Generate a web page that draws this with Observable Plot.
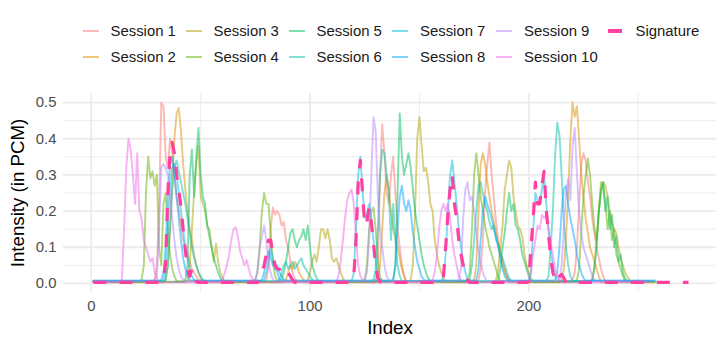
<!DOCTYPE html>
<html>
<head>
<meta charset="utf-8">
<script src="https://cdn.jsdelivr.net/npm/d3@7"></script>
<script src="https://cdn.jsdelivr.net/npm/@observablehq/plot@0.6"></script>
<style>
  html, body { margin: 0; padding: 0; background: #fff; }
  #chart { position: relative; width: 726px; height: 347px; font-family: "Liberation Sans", Arial, Helvetica, sans-serif; }
  #legend { position: relative; width: 726px; height: 75px; }
  .lg-key { position: absolute; }
  .lg-text { position: absolute; font-size: 14.9px; color: #1a1a1a; line-height: 1; white-space: nowrap; }
  #plot svg { display: block; }
</style>
</head>
<body>
<div id="chart">
  <div id="legend"></div>
  <div id="plot"></div>
</div>
<script>
// Series names and colours (ggplot hue palette for the sessions)
const seriesNames = ["Session 1", "Session 2", "Session 3", "Session 4", "Session 5",
                     "Session 6", "Session 7", "Session 8", "Session 9", "Session 10"];
const seriesColors = ["#F8766D", "#DB8E00", "#AEA200", "#64B200", "#00BD5C",
                      "#00C1A7", "#00BADE", "#00A6FF", "#B385FF", "#EF67EB"];
const signatureName = "Signature";
const signatureColor = "#FF40A0";

// Each session: peaks as [first index, consecutive intensities]; quiet stretches sit at the session's baseline
const session1 = [
  [29, [0.01, 0.05, 0.2, 0.5, 0.49, 0.35, 0.32, 0.4, 0.36, 0.3, 0.24, 0.2, 0.16, 0.12, 0.1, 0.08, 0.06, 0.04, 0.03, 0.02, 0.01]],
  [80, [0.01, 0.05, 0.15, 0.21, 0.19, 0.2, 0.19, 0.16, 0.17, 0.12, 0.1, 0.06, 0.03, 0.015]],
  [130, [0.01, 0.05, 0.3, 0.44, 0.36, 0.25, 0.22, 0.3, 0.35, 0.25, 0.15, 0.1, 0.05, 0.02]],
  [177, [0.01, 0.04, 0.12, 0.25, 0.33, 0.39, 0.3, 0.24, 0.17, 0.12, 0.09, 0.06, 0.04, 0.02, 0.01]],
  [220, [0.01, 0.03, 0.1, 0.22, 0.33, 0.36, 0.34, 0.28, 0.24, 0.18, 0.14, 0.1, 0.07, 0.04, 0.02]]
];
const session2 = [
  [34, [0.01, 0.05, 0.15, 0.28, 0.4, 0.47, 0.485, 0.42, 0.33, 0.26, 0.2, 0.15, 0.12, 0.08, 0.05, 0.03, 0.015]],
  [89, [0.01, 0.03, 0.05, 0.04, 0.06, 0.05, 0.03, 0.02, 0.01]],
  [131, [0.01, 0.05, 0.15, 0.25, 0.3, 0.26, 0.2, 0.15, 0.13, 0.1, 0.07, 0.04, 0.02]],
  [175, [0.01, 0.05, 0.2, 0.33, 0.36, 0.33, 0.28, 0.24, 0.2, 0.17, 0.14, 0.11, 0.08, 0.05, 0.03, 0.015]],
  [215, [0.01, 0.04, 0.12, 0.25, 0.4, 0.5, 0.46, 0.49, 0.4, 0.3, 0.24, 0.18, 0.14, 0.1, 0.08, 0.06, 0.04, 0.02]]
];
const session3 = [
  [44, [0.01, 0.05, 0.15, 0.25, 0.33, 0.38, 0.24, 0.22, 0.2, 0.16, 0.15, 0.1, 0.06, 0.11, 0.06, 0.03, 0.015]],
  [99, [0.01, 0.03, 0.06, 0.08, 0.06, 0.1, 0.15, 0.15, 0.125, 0.15, 0.12, 0.07, 0.06, 0.07, 0.05, 0.03, 0.015]],
  [146, [0.01, 0.05, 0.2, 0.4, 0.46, 0.38, 0.31, 0.32, 0.28, 0.22, 0.2, 0.12, 0.08, 0.05, 0.03, 0.015]],
  [185, [0.01, 0.04, 0.1, 0.16, 0.26, 0.3, 0.34, 0.32, 0.24, 0.2, 0.16, 0.15, 0.13, 0.08, 0.05, 0.03, 0.015]],
  [229, [0.01, 0.05, 0.12, 0.2, 0.26, 0.28, 0.27, 0.24, 0.2, 0.17, 0.15, 0.14, 0.1, 0.07, 0.05, 0.03, 0.02, 0.01]]
];
const session4 = [
  [23, [0.01, 0.05, 0.25, 0.35, 0.29, 0.31, 0.27, 0.3, 0.1, 0.05, 0.22, 0.25, 0.15, 0.08, 0.04, 0.02]],
  [75, [0.01, 0.03, 0.1, 0.2, 0.25, 0.22, 0.22, 0.14, 0.06, 0.02]],
  [125, [0.01, 0.05, 0.15, 0.2, 0.21, 0.15, 0.06, 0.02]],
  [172, [0.01, 0.03, 0.15, 0.3, 0.36, 0.3, 0.24, 0.2, 0.16, 0.13, 0.1, 0.08, 0.06, 0.04, 0.02]],
  [222, [0.01, 0.04, 0.15, 0.24, 0.3, 0.345, 0.3, 0.22, 0.15, 0.12, 0.2, 0.28, 0.27, 0.22, 0.15, 0.2, 0.12, 0.15, 0.08, 0.06, 0.04, 0.02]]
];
const session5 = [
  [43, [0.01, 0.05, 0.3, 0.37, 0.24, 0.35, 0.43, 0.3, 0.24, 0.22, 0.16, 0.13, 0.1, 0.07, 0.05, 0.03, 0.015]],
  [87, [0.01, 0.03, 0.06, 0.1, 0.14, 0.15, 0.12, 0.1, 0.12, 0.13, 0.15, 0.12, 0.16, 0.1, 0.05, 0.03, 0.015]],
  [138, [0.01, 0.05, 0.25, 0.47, 0.35, 0.3, 0.33, 0.36, 0.32, 0.26, 0.2, 0.16, 0.12, 0.08, 0.05, 0.03, 0.015]],
  [186, [0.01, 0.04, 0.1, 0.14, 0.2, 0.25, 0.2, 0.22, 0.16, 0.15, 0.12, 0.08, 0.06, 0.04, 0.02]],
  [229, [0.01, 0.04, 0.1, 0.2, 0.25, 0.28, 0.2, 0.24, 0.15, 0.19, 0.1, 0.13, 0.06, 0.08, 0.03, 0.015]]
];
const session6 = [
  [34, [0.01, 0.05, 0.15, 0.26, 0.32, 0.34, 0.31, 0.28, 0.25, 0.22, 0.18, 0.14, 0.1, 0.07, 0.05, 0.03, 0.02, 0.01]],
  [86, [0.01, 0.03, 0.05, 0.06, 0.04, 0.05, 0.06, 0.04, 0.05, 0.06, 0.07, 0.05, 0.04, 0.03, 0.02, 0.01]],
  [129, [0.01, 0.04, 0.15, 0.3, 0.37, 0.36, 0.3, 0.25, 0.12, 0.22, 0.12, 0.05, 0.02]],
  [173, [0.01, 0.05, 0.12, 0.2, 0.27, 0.28, 0.25, 0.22, 0.2, 0.17, 0.15, 0.16, 0.12, 0.11, 0.08, 0.07, 0.05, 0.03, 0.015]],
  [209, [0.02, 0.1, 0.2, 0.35, 0.445, 0.41, 0.3, 0.17, 0.1, 0.05, 0.02]]
];
const session7 = [
  [33, [0.01, 0.04, 0.15, 0.27, 0.32, 0.33, 0.3, 0.25, 0.2, 0.15, 0.1, 0.07, 0.04, 0.02, 0.01]],
  [79, [0.01, 0.03, 0.06, 0.1, 0.07, 0.04, 0.05, 0.03, 0.02, 0.01]],
  [119, [0.005, 0.03, 0.15, 0.3, 0.35, 0.26, 0.18, 0.19, 0.22, 0.18, 0.12, 0.06, 0.02, 0.01]],
  [160, [0.005, 0.02, 0.08, 0.2, 0.3, 0.34, 0.28, 0.22, 0.15, 0.1, 0.06, 0.03, 0.01]],
  [200, [0.005, 0.03, 0.15, 0.25, 0.23, 0.22, 0.26, 0.3, 0.22, 0.15, 0.09, 0.05, 0.02, 0.01]]
];
const session8 = [
  [32, [0.01, 0.03, 0.1, 0.25, 0.33, 0.35, 0.3, 0.24, 0.18, 0.12, 0.07, 0.04, 0.02, 0.01]],
  [78, [0.01, 0.03, 0.06, 0.09, 0.07, 0.05, 0.06, 0.03, 0.01]],
  [138, [0.01, 0.05, 0.15, 0.24, 0.27, 0.22, 0.2, 0.23, 0.2, 0.14, 0.1, 0.06, 0.04, 0.02, 0.01]],
  [176, [0.01, 0.04, 0.12, 0.2, 0.24, 0.22, 0.2, 0.18, 0.15, 0.13, 0.1, 0.07, 0.04, 0.02, 0.01]],
  [212, [0.01, 0.03, 0.1, 0.2, 0.26, 0.27, 0.22, 0.18, 0.15, 0.12, 0.08, 0.05, 0.03, 0.015]]
];
const session9 = [
  [29, [0.01, 0.02, 0.15, 0.32, 0.33, 0.32, 0.3, 0.25, 0.18, 0.12, 0.07, 0.04, 0.02, 0.01]],
  [75, [0.01, 0.04, 0.1, 0.13, 0.16, 0.12, 0.06, 0.03, 0.01]],
  [125, [0.01, 0.03, 0.12, 0.3, 0.46, 0.42, 0.24, 0.15, 0.1, 0.05, 0.02, 0.01]],
  [168, [0.01, 0.04, 0.18, 0.26, 0.28, 0.23, 0.24, 0.2, 0.14, 0.09, 0.06, 0.03, 0.015]],
  [214, [0.01, 0.05, 0.15, 0.25, 0.29, 0.23, 0.38, 0.43, 0.3, 0.2, 0.14, 0.1, 0.08, 0.06, 0.04, 0.02, 0.01]]
];
const session10 = [
  [13, [0.005, 0.01, 0.15, 0.32, 0.4, 0.37, 0.3, 0.22, 0.36, 0.2, 0.18, 0.12, 0.1, 0.08, 0.06, 0.07, 0.03, 0.015]],
  [60, [0.01, 0.03, 0.05, 0.08, 0.12, 0.15, 0.155, 0.13, 0.09, 0.07, 0.05, 0.065, 0.04, 0.02, 0.01]],
  [112, [0.005, 0.02, 0.06, 0.12, 0.18, 0.23, 0.25, 0.26, 0.22, 0.13, 0.05, 0.02, 0.01]],
  [156, [0.01, 0.03, 0.08, 0.15, 0.2, 0.22, 0.2, 0.22, 0.18, 0.12, 0.08, 0.05, 0.02, 0.01]],
  [200, [0.01, 0.03, 0.08, 0.12, 0.16, 0.15, 0.19, 0.18, 0.19, 0.15, 0.11, 0.08, 0.04, 0.02, 0.01]]
];
const signature = [
  [33, [0.01, 0.06, 0.25, 0.36, 0.39, 0.36, 0.3, 0.26, 0.21, 0.15, 0.09, 0.04, 0.02, 0.04, 0.03, 0.005]],
  [77, [0.01, 0.03, 0.05, 0.08, 0.12, 0.12, 0.08, 0.05, 0.04, 0.04, 0.03, 0.02, 0.025, 0.03, 0.02, 0.01]],
  [119, [0.005, 0.02, 0.12, 0.28, 0.34, 0.25, 0.16, 0.17, 0.21, 0.17, 0.11, 0.05, 0.015, 0.005]],
  [160, [0.005, 0.02, 0.1, 0.19, 0.26, 0.3, 0.22, 0.18, 0.12, 0.08, 0.05, 0.025, 0.01]],
  [200, [0.005, 0.1, 0.18, 0.28, 0.22, 0.22, 0.27, 0.31, 0.2, 0.14, 0.07, 0.03, 0.01]],
  [214, [0.02, 0.025, 0.015]]
];

const sessionPeaks = [session1, session2, session3, session4, session5,
                      session6, session7, session8, session9, session10];
const sessionBaselines = [0.005, 0.003, 0.004, 0.006, 0.005, 0.007, 0.007, 0.008, 0.006, 0.003];
const sessionLengths = [255, 258, 257, 256, 258, 255, 257, 258, 256, 254];
const signatureBaseline = 0.003;
const signatureLength = 273;

// Axis ticks and grid
const xTicks = [0, 100, 200];
const xMinor = [50, 150, 250];
const yTicks = [0, 0.1, 0.2, 0.3, 0.4, 0.5];
const yMinor = [0.05, 0.15, 0.25, 0.35, 0.45];

// Expand peak segments into one row per index (indices start at 1)
function toRows(name, peaks, baseline, length) {
  const values = new Array(length + 1).fill(baseline);
  for (const [start, vals] of peaks) vals.forEach((v, k) => { values[start + k] = v; });
  const rows = [];
  for (let i = 1; i <= length; i++) rows.push({series: name, index: i, value: values[i]});
  return rows;
}

const sessionRows = seriesNames.map((name, k) =>
  toRows(name, sessionPeaks[k], sessionBaselines[k], sessionLengths[k]));
const signatureRows = toRows(signatureName, signature, signatureBaseline, signatureLength);

// Legend: two rows, filled column by column
const legend = document.getElementById("legend");
const legendItems = seriesNames.map((n, k) => ({name: n, color: seriesColors[k], sig: false}))
  .concat([{name: signatureName, color: signatureColor, sig: true}]);
const colX = [82.5, 185.5, 288.5, 392, 496, 607.5];
const rowY = [31, 57];
legendItems.forEach((item, k) => {
  const col = Math.floor(k / 2), row = k % 2;
  const key = document.createElement("div");
  key.className = "lg-key";
  const w = item.sig ? 14 : 16, h = item.sig ? 3.2 : 1.9;
  key.style.left = colX[col] + "px";
  key.style.top = (rowY[row] - h / 2) + "px";
  key.style.width = w + "px";
  key.style.height = h + "px";
  key.style.background = item.color;
  key.style.opacity = item.sig ? 1 : 0.5;
  legend.appendChild(key);
  const t = document.createElement("div");
  t.className = "lg-text";
  t.textContent = item.name;
  t.style.left = (colX[col] + 28) + "px";
  t.style.top = (rowY[row] - 7.5) + "px";
  legend.appendChild(t);
});

const plot = Plot.plot({
  width: 726,
  height: 272,
  marginTop: 18,
  marginBottom: 55,
  marginLeft: 63,
  marginRight: 10,
  style: {fontFamily: '"Liberation Sans", Arial, Helvetica, sans-serif', background: "white", overflow: "visible"},
  x: {domain: [-12.7, 285.8]},
  y: {domain: [-0.025, 0.525]},
  marks: [
    Plot.ruleY(yMinor, {stroke: "#EBEBEB", strokeWidth: 0.9}),
    Plot.ruleX(xMinor, {stroke: "#EBEBEB", strokeWidth: 0.9}),
    Plot.ruleY(yTicks, {stroke: "#EBEBEB", strokeWidth: 1.8}),
    Plot.ruleX(xTicks, {stroke: "#EBEBEB", strokeWidth: 1.8}),
    ...sessionRows.map((rows, k) => Plot.line(rows, {
      x: "index", y: "value", stroke: seriesColors[k], strokeOpacity: 0.5, strokeWidth: 1.9
    })),
    Plot.line(signatureRows, {
      x: "index", y: "value", stroke: signatureColor, strokeWidth: 3.2,
      strokeDasharray: "13,13", strokeLinecap: "butt"
    }),
    Plot.axisX({ticks: xTicks, tickSize: 0, tickPadding: 8, fontSize: 14.9, color: "#4D4D4D", label: null}),
    Plot.axisY({ticks: yTicks, tickSize: 0, tickPadding: 7, fontSize: 14.9, color: "#4D4D4D",
                tickFormat: d => d.toFixed(1), label: null}),
    Plot.text(["Index"], {text: d => d, frameAnchor: "bottom", dy: 36, lineAnchor: "middle",
                          textAnchor: "middle", fontSize: 18.7, fill: "black"}),
    Plot.text(["Intensity (in PCM)"], {text: d => d, frameAnchor: "left", dx: -45, rotate: -90,
                          lineAnchor: "middle", textAnchor: "middle", fontSize: 18.7, fill: "black"})
  ]
});
document.getElementById("plot").appendChild(plot);
</script>
</body>
</html>
